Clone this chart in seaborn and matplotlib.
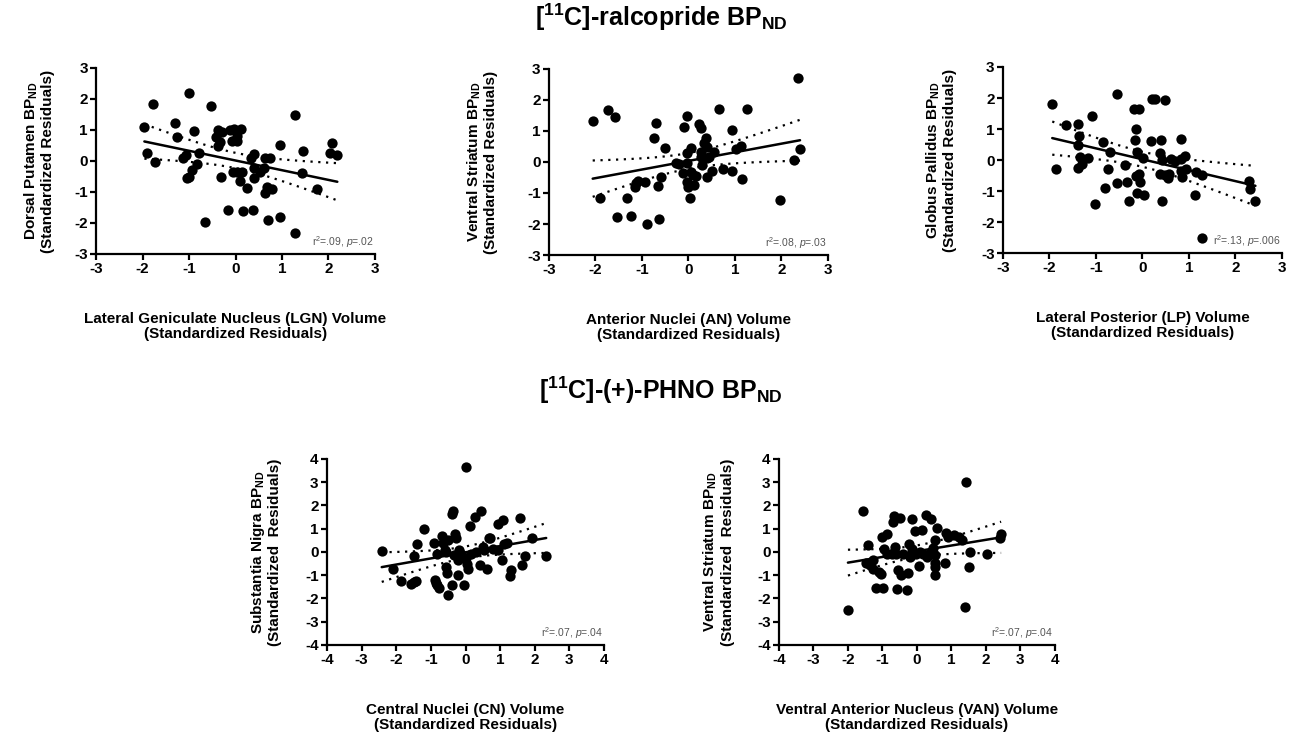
import numpy as np
import matplotlib
matplotlib.use("Agg")
import matplotlib.pyplot as plt
import seaborn as sns

# ---- data (standardized residuals) ----
dp_x = [-1.96, -1.90, -1.78, -1.74, -1.30, -1.26, -1.00, -0.90, -1.13, -1.06,
        -0.94, -1.05, -1.01, -0.78, -0.83, -0.65, -0.52, -0.42, -0.37, -0.29,
        -0.37, -0.33, -0.32, -0.16, -0.11, -0.08, -0.04, 0.03, 0.04, 0.11,
        -0.06, 0.03, 0.15, 0.09, 0.24, 0.17, 0.37, 0.33, 0.39, 0.40,
        0.39, 0.53, 0.62, 0.64, 0.75, 0.64, 0.67, 0.78, 0.69, 0.96,
        0.95, 1.28, 1.27, 1.43, 1.46, 1.75, 2.07, 2.04, 2.19]
dp_y = [1.09, 0.25, 1.84, -0.02, 1.23, 0.76, 2.18, 0.98, 0.11, 0.18,
        -0.29, -0.55, -0.53, 0.25, -0.11, -1.98, 1.78, 0.77, 1.01, 0.94,
        0.47, 0.61, -0.53, -1.57, 1.01, 0.63, 1.02, 0.80, 0.63, 1.04,
        -0.35, -0.35, -0.35, -0.66, -0.87, -1.60, -1.59, 0.10, 0.23, -0.23,
        -0.55, -0.35, -0.23, 0.10, 0.08, -1.03, -0.85, -0.92, -1.92, -1.81,
        0.51, 1.47, -2.32, -0.40, 0.33, -0.92, 0.57, 0.26, 0.20]

vs_x = [-2.06, -1.90, -1.73, -1.59, -1.54, -1.32, -1.24, -1.16, -1.09, -1.12,
        -0.94, -0.89, -0.75, -0.69, -0.65, -0.64, -0.60, -0.51, -0.26, -0.20,
        -0.12, -0.10, -0.04, -0.04, -0.04, -0.04, -0.02, 0.03, 0.05, 0.06,
        0.10, 0.12, 0.17, 0.23, 0.28, 0.26, 0.28, 0.30, 0.33, 0.37,
        0.39, 0.40, 0.39, 0.45, 0.50, 0.55, 0.66, 0.75, 0.93, 0.93,
        1.02, 1.12, 1.16, 1.27, 1.97, 2.27, 2.35, 2.40]
vs_y = [1.32, -1.15, 1.68, 1.46, -1.78, -1.15, -1.74, -0.80, -0.61, -0.69,
        -0.63, -2.01, 0.76, 1.27, -0.77, -1.85, -0.47, 0.44, -0.04, -0.08,
        -0.37, 1.14, 1.49, 0.28, -0.04, -0.63, -0.80, -1.17, 0.46, -0.31,
        -0.42, -0.74, -0.45, 1.21, 1.09, 0.33, 0.17, -0.10, 0.60, 0.76,
        0.49, 0.12, -0.47, 0.17, -0.28, 0.31, 1.71, -0.24, 1.03, -0.29,
        0.42, 0.52, -0.56, 1.70, -1.23, 0.08, 2.70, 0.41]

gp_x = [-1.94, -1.85, -1.65, -1.38, -1.36, -1.38, -1.35, -1.38, -1.29, -1.17,
        -1.08, -1.02, -0.85, -0.81, -0.74, -0.70, -0.55, -0.55, -0.37, -0.34,
        -0.29, -0.19, -0.07, -0.16, -0.13, -0.11, -0.14, -0.07, -0.06, -0.11,
        0.03, 0.01, 0.19, 0.20, 0.27, 0.37, 0.40, 0.37, 0.42, 0.43,
        0.48, 0.48, 0.55, 0.57, 0.62, 0.70, 0.82, 0.82, 0.82, 0.86,
        0.91, 0.93, 1.13, 1.16, 1.29, 1.29, 2.30, 2.32, 2.43]
gp_y = [1.82, -0.28, 1.14, 1.17, 0.77, 0.49, 0.10, -0.26, -0.12, 0.06,
        1.42, -1.41, 0.58, -0.89, -0.30, 0.26, 2.12, -0.73, -0.17, -0.71,
        -1.32, 1.66, 1.66, 0.63, 0.99, 0.26, -0.52, -0.44, -0.71, -1.05,
        -1.14, 0.06, 0.60, 1.96, 1.96, 0.23, 0.66, -0.45, -1.32, -0.01,
        1.92, -0.49, -0.57, -0.44, 0.02, -0.04, 0.69, 0.04, -0.37, -0.55,
        0.13, -0.28, -1.14, -0.39, -0.47, -2.52, -0.69, -0.92, -1.33]

sn_x = [-2.42, -2.09, -1.86, -1.58, -1.49, -1.44, -1.49, -1.39, -1.20, -0.92,
        -0.89, -0.85, -0.82, -0.77, -0.82, -0.68, -0.65, -0.60, -0.51, -0.51,
        -0.39, -0.36, -0.56, -0.56, -0.53, -0.39, -0.30, -0.28, -0.22, -0.34,
        -0.22, -0.18, -0.12, -0.05, 0.01, 0.01, 0.05, 0.07, 0.13, 0.16,
        0.28, 0.30, 0.42, 0.45, 0.50, 0.52, 0.62, 0.68, 0.71, 0.80,
        0.93, 0.95, 1.09, 1.06, 1.12, 1.20, 1.28, 1.31, 1.57, 1.63,
        1.73, 1.92, 2.33]
sn_y = [0.04, -0.72, -1.27, -1.37, -1.30, -1.27, -0.19, 0.36, 0.97, 0.40,
        -1.22, -1.34, -1.44, -1.54, -0.07, 0.68, 0.39, 0.10, 0.53, -1.83,
        1.63, 1.76, 0.00, -0.65, -0.89, -1.44, 0.79, 0.62, -0.97, -0.14,
        -0.33, 0.10, -0.07, -1.44, 3.67, -0.24, -0.50, -0.72, 1.11, -0.07,
        1.51, 0.00, -0.58, 1.77, 0.22, 0.07, -0.72, 0.58, 0.62, 0.12,
        0.10, 1.20, 1.37, -0.33, 0.33, 0.39, -1.04, -0.76, 1.44, -0.55,
        -0.16, 0.62, -0.19]

van_x = [-2.00, -1.56, -1.49, -1.42, -1.35, -1.26, -1.28, -1.18, -0.99, -1.11,
         -1.04, -1.02, -0.88, -0.95, -0.88, -0.73, -0.70, -0.67, -0.64, -0.67,
         -0.61, -0.54, -0.57, -0.48, -0.45, -0.40, -0.29, -0.26, -0.23, -0.21,
         -0.13, -0.13, -0.06, -0.02, 0.06, 0.15, 0.08, 0.17, 0.27, 0.29,
         0.41, 0.41, 0.46, 0.51, 0.51, 0.53, 0.53, 0.57, 0.51, 0.82,
         0.84, 0.89, 1.08, 1.22, 1.31, 1.41, 1.39, 1.50, 1.55, 2.03,
         2.44, 2.41]
van_y = [-2.49, 1.76, -0.48, 0.32, -0.58, -0.33, -0.72, -1.54, -1.54, -0.86,
         -0.94, 0.65, 0.79, 0.14, -0.10, -0.07, 1.30, 1.54, 0.22, 0.00,
         -0.10, -0.79, -1.58, 1.44, -1.01, -0.07, -1.63, -0.91, 0.33, -0.22,
         1.40, 0.14, 0.89, -0.07, -0.62, 0.94, 0.00, -0.10, 1.58, -0.22,
         1.40, 0.00, 0.17, 0.53, -0.48, -0.65, -1.01, 1.04, -0.14, -0.46,
         0.82, 0.65, 0.72, 0.65, 0.53, 3.00, -2.38, -0.65, 0.00, -0.07,
         0.76, 0.58]

panels = [
    dict(x=dp_x, y=dp_y, lim=3, rect=[0.0745, 0.6535, 0.2164, 0.2538], ylx=-0.148,
         ylab=r"Dorsal Putamen BP$_{\mathbf{ND}}$" + "\n(Standardized Residuals)",
         xlab="Lateral Geniculate Nucleus (LGN) Volume\n(Standardized Residuals)",
         stat=("09", "02")),
    dict(x=vs_x, y=vs_y, lim=3, rect=[0.4259, 0.6521, 0.2164, 0.2538], ylx=-0.182,
         ylab=r"Ventral Striatum BP$_{\mathbf{ND}}$" + "\n(Standardized Residuals)",
         xlab="Anterior Nuclei (AN) Volume\n(Standardized Residuals)",
         stat=("08", "03")),
    dict(x=gp_x, y=gp_y, lim=3, rect=[0.7781, 0.6548, 0.2164, 0.2538], ylx=-0.166,
         ylab=r"Globus Pallidus BP$_{\mathbf{ND}}$" + "\n(Standardized Residuals)",
         xlab="Lateral Posterior (LP) Volume\n(Standardized Residuals)",
         stat=("13", "006")),
    dict(x=sn_x, y=sn_y, lim=4, rect=[0.2537, 0.1201, 0.2149, 0.2538], ylx=-0.161,
         ylab=r"Substantia Nigra BP$_{\mathbf{ND}}$" + "\n(Standardized  Residuals)",
         xlab="Central Nuclei (CN) Volume\n(Standardized Residuals)",
         stat=("07", "04")),
    dict(x=van_x, y=van_y, lim=4, rect=[0.6043, 0.1201, 0.2141, 0.2538], ylx=-0.161,
         ylab=r"Ventral Striatum BP$_{\mathbf{ND}}$" + "\n(Standardized  Residuals)",
         xlab="Ventral Anterior Nucleus (VAN) Volume\n(Standardized Residuals)",
         stat=("07", "04")),
]

sns.set_theme(style="ticks")
plt.rcParams["font.family"] = ["Liberation Sans", "DejaVu Sans"]
plt.rcParams["mathtext.fontset"] = "custom"
plt.rcParams["mathtext.rm"] = "Liberation Sans"
plt.rcParams["mathtext.it"] = "Liberation Sans:italic"
plt.rcParams["mathtext.bf"] = "Liberation Sans:bold"
plt.rcParams["axes.unicode_minus"] = False
plt.rcParams["text.color"] = "black"
plt.rcParams["axes.labelcolor"] = "black"
plt.rcParams["xtick.color"] = "black"
plt.rcParams["ytick.color"] = "black"


def conf_band(x, y):
    # 95% confidence band of the fitted line (t ~ 2.0 for ~60 points)
    x = np.asarray(x)
    y = np.asarray(y)
    n = len(x)
    b, a = np.polyfit(x, y, 1)
    resid = y - (a + b * x)
    s = np.sqrt(np.sum(resid ** 2) / (n - 2))
    sxx = np.sum((x - x.mean()) ** 2)
    grid = np.linspace(x.min(), x.max(), 100)
    fit = a + b * grid
    se = s * np.sqrt(1.0 / n + (grid - x.mean()) ** 2 / sxx)
    return grid, fit - 2.0 * se, fit + 2.0 * se


fig = plt.figure(figsize=(12.89, 7.33), dpi=100)

for p in panels:
    ax = fig.add_axes(p["rect"])
    sns.regplot(x=np.array(p["x"]), y=np.array(p["y"]), ax=ax, ci=None,
                scatter_kws=dict(s=55, color="black", alpha=1, linewidths=0, clip_on=False),
                line_kws=dict(color="black", lw=1.8))
    gx, lo, hi = conf_band(p["x"], p["y"])
    ax.plot(gx, lo, color="black", lw=1.6, ls=(0, (1, 2.5)))
    ax.plot(gx, hi, color="black", lw=1.6, ls=(0, (1, 2.5)))

    lim = p["lim"]
    ax.set_xlim(-lim, lim)
    ax.set_ylim(-lim, lim)
    ax.set_xticks(range(-lim, lim + 1))
    ax.set_yticks(range(-lim, lim + 1))
    sns.despine(ax=ax)
    for s in ("left", "bottom"):
        ax.spines[s].set_linewidth(1.6)
        ax.spines[s].set_color("black")
    ax.tick_params(width=1.6, length=4, color="black", labelcolor="black",
                   labelsize=11, pad=2)
    for t in ax.get_xticklabels() + ax.get_yticklabels():
        t.set_fontweight("bold")

    ax.set_ylabel(p["ylab"], fontsize=11, fontweight="bold", linespacing=1.1)
    ax.yaxis.set_label_coords(p["ylx"], 0.5)
    ax.set_xlabel(p["xlab"], fontsize=11, fontweight="bold", linespacing=1.15)
    ax.xaxis.set_label_coords(0.5, -0.31)

    r2, pv = p["stat"]
    ax.text(0.995, 0.02, r"r$^2$=." + r2 + r", $\mathit{p}$=." + pv,
            transform=ax.transAxes, ha="right", va="bottom",
            fontsize=7.5, color="#555555")

fig.text(0.513, 0.976, r"[$^{\mathbf{11}}$C]-ralcopride BP$_{\mathbf{ND}}$",
         ha="center", va="center", fontsize=18, fontweight="bold")
fig.text(0.513, 0.468, r"[$^{\mathbf{11}}$C]-(+)-PHNO BP$_{\mathbf{ND}}$",
         ha="center", va="center", fontsize=18, fontweight="bold")

fig.savefig("out.png", dpi=100)
